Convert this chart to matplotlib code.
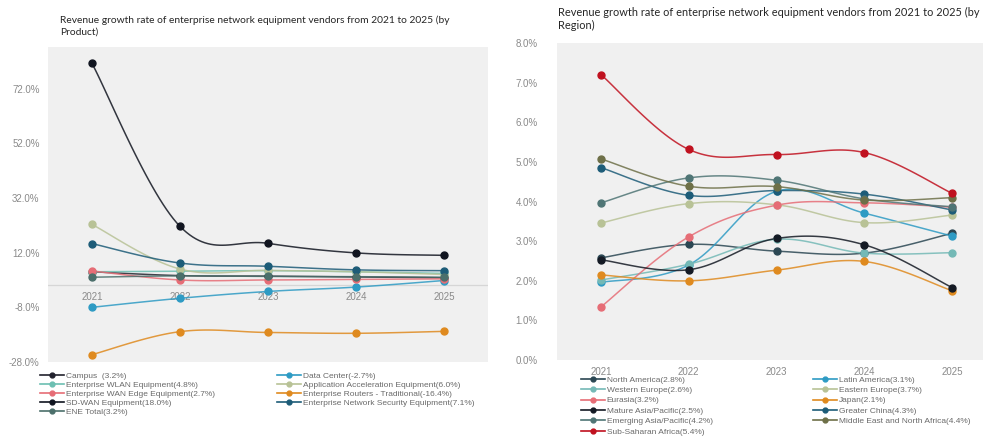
import numpy as np
import matplotlib
matplotlib.use("Agg")
import matplotlib.pyplot as plt
from matplotlib.lines import Line2D

years = ["2021", "2022", "2023", "2024", "2025"]

# ---- Left chart: by product ----
prod_labels = ["Campus  (3.2%)", "Data Center(-2.7%)", "Enterprise WLAN Equipment(4.8%)",
               "Application Acceleration Equipment(6.0%)", "Enterprise WAN Edge Equipment(2.7%)",
               "Enterprise Routers - Traditional(-16.4%)", "SD-WAN Equipment(18.0%)",
               "Enterprise Network Security Equipment(7.1%)", "ENE Total(3.2%)"]
campus = [5.0, 3.6, 3.4, 3.1, 2.8]
data_center = [-8.0, -4.7, -2.2, -0.6, 1.8]
wlan = [5.0, 5.2, 5.4, 5.0, 4.4]
app_accel = [22.3, 6.0, 5.5, 5.0, 4.0]
wan_edge = [5.3, 2.0, 2.0, 2.2, 2.4]
routers = [-25.3, -16.9, -17.2, -17.5, -16.8]
sdwan = [81.2, 21.6, 15.4, 11.9, 11.0]
net_sec = [15.3, 8.2, 7.0, 5.7, 5.4]
ene_total = [3.0, 3.5, 3.3, 3.2, 3.0]
prod_values = [campus, data_center, wlan, app_accel, wan_edge, routers, sdwan, net_sec, ene_total]
prod_colors = ["#23232e", "#2e9bc4", "#6cbfb2", "#b8c296", "#e66d76", "#df8a1f",
               "#111520", "#1d5c78", "#4b6f6b"]
prod_ticks = [-28, -8, 12, 32, 52, 72]

# ---- Right chart: by region ----
reg_labels = ["North America(2.8%)", "Latin America(3.1%)", "Western Europe(2.6%)",
              "Eastern Europe(3.7%)", "Eurasia(3.2%)", "Japan(2.1%)",
              "Mature Asia/Pacific(2.5%)", "Greater China(4.3%)",
              "Emerging Asia/Pacific(4.2%)", "Middle East and North Africa(4.4%)",
              "Sub-Saharan Africa(5.4%)"]
north_america = [2.58, 2.92, 2.75, 2.70, 3.20]
latin_america = [1.96, 2.40, 4.26, 3.71, 3.13]
western_europe = [2.02, 2.42, 3.05, 2.70, 2.71]
eastern_europe = [3.46, 3.95, 3.92, 3.47, 3.66]
eurasia = [1.34, 3.11, 3.91, 3.97, 3.86]
japan = [2.15, 2.00, 2.27, 2.49, 1.75]
mature_apac = [2.53, 2.28, 3.07, 2.91, 1.83]
greater_china = [4.86, 4.16, 4.28, 4.19, 3.79]
emerging_apac = [3.97, 4.60, 4.54, 4.07, 3.87]
mena = [5.08, 4.39, 4.38, 4.04, 4.10]
sub_saharan = [7.21, 5.32, 5.19, 5.24, 4.21]
reg_values = [north_america, latin_america, western_europe, eastern_europe, eurasia, japan,
              mature_apac, greater_china, emerging_apac, mena, sub_saharan]
reg_colors = ["#2b4753", "#2e9bc4", "#74b9b6", "#b8c296", "#e66d76", "#df8a1f",
              "#141a24", "#1d5c78", "#4f7575", "#6e7048", "#c0111f"]
reg_ticks = [0, 1, 2, 3, 4, 5, 6, 7, 8]

TICK_C = "#8a8a8a"
BG = "#f0f0f0"


def smooth(xs, ys, k=0.18, n=30):
    xs = np.asarray(xs, float)
    ys = np.asarray(ys, float)
    P = np.column_stack([xs, ys])
    out = []
    m = len(P)
    for i in range(m - 1):
        p0 = P[i - 1] if i > 0 else P[i]
        p1 = P[i]
        p2 = P[i + 1]
        p3 = P[i + 2] if i + 2 < m else P[i + 1]
        c1 = p1 + (p2 - p0) * k
        c2 = p2 - (p3 - p1) * k
        t = np.linspace(0, 1, n)[:, None]
        seg = ((1 - t) ** 3) * p1 + 3 * ((1 - t) ** 2) * t * c1 + 3 * (1 - t) * t * t * c2 + (t ** 3) * p2
        out.append(seg if i == 0 else seg[1:])
    s = np.vstack(out)
    return s[:, 0], s[:, 1]


W, H = 983, 437
fig = plt.figure(figsize=(W / 100, H / 100), dpi=100)
plt.rcParams['font.family'] = ['Liberation Sans', 'DejaVu Sans']


def draw(ax, values, colors):
    x = np.arange(len(years))
    for v, c in zip(values, colors):
        sx, sy = smooth(x, v)
        ax.plot(sx, sy, color=c, lw=1.1, alpha=0.85, zorder=3)
        ax.plot(x, v, 'o', color=c, ms=5, zorder=4)
    ax.set_xlim(-0.5, len(years) - 0.5)
    ax.set_xticks(x)
    ax.set_xticklabels(years)
    ax.set_facecolor(BG)
    for s in ax.spines.values():
        s.set_visible(False)
    ax.tick_params(length=0, labelsize=7, colors=TICK_C)


# Left axes
axL = fig.add_axes([48 / W, 1 - 362 / H, 440 / W, 315 / H])
draw(axL, prod_values, prod_colors)
axL.set_ylim(-28, 87.2)
axL.set_yticks(prod_ticks)
axL.set_yticklabels([f"{t:.1f}%" for t in prod_ticks])
axL.axhline(0, color="#d6d6d6", lw=0.9, zorder=2)
axL.spines['bottom'].set_position(('data', 0))
axL.tick_params(axis='x', pad=5)
axL.tick_params(axis='y', pad=6)

# Right axes
axR = fig.add_axes([557 / W, 1 - 360 / H, 439 / W, 316.7 / H])
draw(axR, reg_values, reg_colors)
axR.set_ylim(0, 8)
axR.set_yticks(reg_ticks)
axR.set_yticklabels([f"{t:.1f}%" for t in reg_ticks])
axR.tick_params(axis='x', pad=5)
axR.tick_params(axis='y', pad=14)

# Titles
title_font = dict(family=['Lato', 'DejaVu Sans'], color="#262626", va='top', ha='left',
                  linespacing=1.3)
fig.text(60 / W, 1 - 15.5 / H,
         "Revenue growth rate of enterprise network equipment vendors from 2021 to 2025 (by\nProduct)",
         fontsize=7.35, **title_font)
fig.text(558 / W, 1 - 6.5 / H,
         "Revenue growth rate of enterprise network equipment vendors from 2021 to 2025 (by\nRegion)",
         fontsize=7.95, **title_font)


def handles(idx, labels, colors):
    return [Line2D([0], [0], color=colors[i], lw=1.2, marker='o', ms=3.5) for i in idx], \
           [labels[i] for i in idx]


def leg(idx, labels, colors, x, y, spacing):
    h, l = handles(idx, labels, colors)
    lg = fig.legend(h, l, loc='upper left', bbox_to_anchor=(x / W, 1 - y / H), frameon=False,
                    fontsize=6, handlelength=2.9, handletextpad=0.2, labelspacing=spacing,
                    borderpad=0, borderaxespad=0)
    for t in lg.get_texts():
        t.set_color("#6a6a6a")
    return lg


leg([0, 2, 4, 6, 8], prod_labels, prod_colors, 40, 372.5, 0.12)
leg([1, 3, 5, 7], prod_labels, prod_colors, 277, 372.5, 0.12)
leg([0, 2, 4, 6, 8, 10], reg_labels, reg_colors, 581, 376, 0.3)
leg([1, 3, 5, 7, 9], reg_labels, reg_colors, 813, 376, 0.3)

fig.savefig("out.png", dpi=100)
